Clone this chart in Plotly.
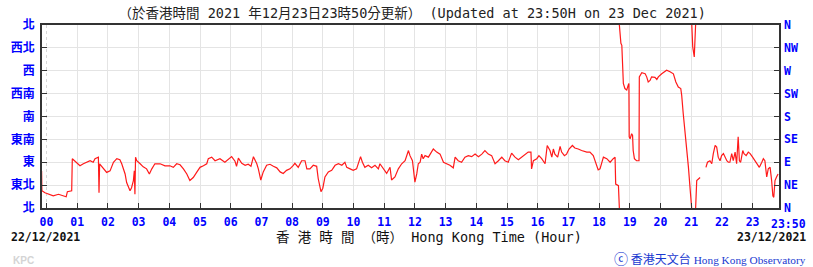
import plotly.graph_objects as go

# Wind direction (degrees) vs. time (hours after 00:00 on 23/12/2021).
# Values below 0 continue past north (unwrapped direction).
hours = [
    -0.16, -0.15, -0.05, 0.06, 0.22, 0.39, 0.55, 0.64, 0.68, 0.77, 0.82, 0.84, 0.93,
    1.04, 1.09, 1.20, 1.31, 1.42, 1.52, 1.58, 1.69, 1.71, 1.73, 1.85, 1.96,
    2.07, 2.18, 2.29, 2.39, 2.45, 2.56, 2.61, 2.67, 2.72, 2.77, 2.83, 2.86, 2.88, 2.90, 2.94,
    3.05, 3.15, 3.26, 3.35, 3.43, 3.53, 3.70, 3.86,
    4.02, 4.13, 4.24, 4.35, 4.46, 4.57, 4.67, 4.78, 4.89,
    5.00, 5.11, 5.22, 5.27, 5.38, 5.49, 5.65, 5.81, 5.92,
    6.03, 6.14, 6.19, 6.25, 6.36, 6.47, 6.57, 6.66, 6.74, 6.85, 6.90, 6.98,
    7.06, 7.17, 7.28, 7.39, 7.50, 7.61, 7.71, 7.82, 7.93,
    8.04, 8.09, 8.20, 8.31, 8.42, 8.48, 8.58, 8.69, 8.80, 8.85, 8.94,
    9.00, 9.07, 9.18, 9.29, 9.40, 9.51, 9.62, 9.72, 9.78, 9.89, 9.99,
    10.10, 10.16, 10.23, 10.29, 10.37, 10.48, 10.59, 10.70, 10.81, 10.86, 10.97,
    11.08, 11.19, 11.24, 11.35, 11.46, 11.57, 11.68, 11.79, 11.84, 11.92,
    12.00, 12.06, 12.11, 12.17, 12.22, 12.27, 12.33, 12.44, 12.55, 12.60, 12.71, 12.82, 12.93,
    13.04, 13.14, 13.25, 13.31, 13.41, 13.52, 13.63, 13.74, 13.85, 13.96,
    14.07, 14.18, 14.28, 14.39, 14.50, 14.61, 14.72, 14.83, 14.93,
    15.04, 15.15, 15.26, 15.37, 15.48, 15.59, 15.69, 15.78, 15.80, 15.86, 15.97,
    16.04, 16.13, 16.24, 16.31, 16.40, 16.46, 16.51, 16.56, 16.65, 16.73, 16.78, 16.87, 16.94,
    17.02, 17.13, 17.21, 17.32, 17.43, 17.60, 17.70, 17.81, 17.87, 17.97,
    18.03, 18.08, 18.14, 18.25, 18.36, 18.46, 18.52, 18.54, 18.63, 18.66, 18.68, 18.71, 18.74,
    18.77, 18.79, 18.84, 18.90, 18.95, 18.97, 18.98,
    19.01, 19.06, 19.09, 19.11, 19.15, 19.22, 19.30, 19.31, 19.39, 19.50, 19.55, 19.60, 19.66,
    19.71, 19.82, 19.88, 19.93,
    20.04, 20.15, 20.20, 20.31, 20.42, 20.50, 20.58, 20.66, 20.69, 20.74, 20.80, 20.85, 20.91, 20.96,
    21.02, 21.05, 21.10, 21.12, 21.14, 21.18, 21.29, 21.38,
    21.48, 21.53, 21.61, 21.67, 21.72, 21.78, 21.83, 21.88, 21.94, 21.99,
    22.05, 22.10, 22.16, 22.21, 22.26, 22.32, 22.37, 22.43, 22.48, 22.53, 22.57, 22.61, 22.68,
    22.72, 22.79, 22.86, 22.92,
    23.00, 23.08, 23.13, 23.22, 23.30, 23.35, 23.40, 23.46, 23.51, 23.57, 23.62, 23.66, 23.69,
    23.73, 23.78, 23.83,
]
direction_deg = [
    73, 34, 30, 28, 24, 27, 23, 22, 32, 34, 34, 97, 92,
    87, 83, 87, 90, 93, 90, 97, 100, 30, 87, 77, 70,
    73, 90, 97, 95, 87, 67, 50, 40, 34, 40, 54, 73, 27, 100, 93,
    87, 81, 77, 67, 77, 87, 87, 83,
    83, 80, 87, 85, 77, 67, 54, 60, 70,
    80, 83, 87, 97, 100, 93, 97, 90, 96,
    101, 92, 82, 98, 88, 84, 86, 82, 101, 87, 77, 55,
    71, 84, 86, 82, 79, 71, 68, 74, 77,
    84, 88, 80, 93, 93, 77, 77, 84, 82, 58, 32,
    39, 61, 71, 74, 84, 87, 84, 90, 80, 77, 74,
    77, 87, 101, 90, 80, 84, 79, 84, 77, 87, 77,
    68, 80, 55, 61, 77, 87, 93, 113, 103, 93,
    51, 67, 87, 90, 106, 97, 103, 100, 113, 116, 110, 106, 90,
    87, 84, 79, 100, 93, 90, 100, 103, 101, 106,
    101, 106, 113, 106, 103, 87, 93, 100, 93,
    90, 108, 100, 95, 100, 106, 110, 110, 77, 93, 97,
    103, 97, 87, 123, 113, 100, 116, 106, 100, 121, 110, 103, 106,
    116, 123, 118, 116, 113, 110, 110, 103, 93, 75,
    77, 90, 100, 97, 90, 97, 100, 47, 44, 0, -23, -36, -40,
    -76, -115, -125, -128, -118, -115, -220,
    -224, -214, -217, -247, -263, -267, -267, -102, -94, -96, -102, -112, -109,
    -102, -103, -107, -102,
    -96, -92, -89, -92, -96, -112, -122, -125, -138, -174, -207, -240, -280, -319,
    -360, -403, -423, -396, -360, -306, -300, None,
    80, 90, 93, 87, 107, 123, 120, 100, 93, 103,
    107, 100, 93, 90, 90, 107, 93, 110, 87, 140, 93, 90, 113,
    107, 103, 110, 107,
    100, 93, 90, 80, 90, 97, 93, 61, 77, 80, 54, 24, 21,
    54, 61, 67,
]

hour_ticks = list(range(24))
hour_labels = [f"{h:02d}" for h in hour_ticks]
dir_ticks = [0, 45, 90, 135, 180, 225, 270, 315, 360]
dir_labels_zh = ["北", "東北", "東", "東南", "南", "西南", "西", "西北", "北"]
dir_labels_en = ["N", "NE", "E", "SE", "S", "SW", "W", "NW", "N"]

title_text = "（於香港時間 2021 年12月23日23時50分更新） (Updated at 23:50H on 23 Dec 2021)"
xlabel_text = "香 港 時 間 （時） Hong Kong Time (Hour)"
start_date = "22/12/2021"
end_date = "23/12/2021"
last_label = "23:50"

BLUE = "#0000ff"
RED = "#ff1a1a"
MONO = "DejaVu Sans Mono, Noto Sans CJK TC"

fig = go.Figure()
# draw the unwrapped series and its 360°-shifted copies so the trace wraps around north
for shift in (0, 360, 720):
    fig.add_trace(go.Scatter(
        x=hours,
        y=[None if v is None else v + shift for v in direction_deg],
        mode="lines", line=dict(color=RED, width=1.2),
        connectgaps=False, showlegend=False, hoverinfo="skip",
    ))
# invisible trace to anchor the right-hand axis
fig.add_trace(go.Scatter(x=[hours[0]], y=[dir_ticks[0]], yaxis="y2", mode="markers",
                         marker=dict(opacity=0), showlegend=False, hoverinfo="skip"))

fig.update_layout(
    width=813, height=267,
    margin=dict(l=42, r=34, t=25, b=59),
    paper_bgcolor="white", plot_bgcolor="white",
    showlegend=False,
    xaxis=dict(
        range=[-0.147, 23.86],
        tickmode="array", tickvals=hour_ticks, ticktext=hour_labels,
        ticks="inside", ticklen=5, tickwidth=1.2, tickcolor="#333",
        showline=True, linecolor="#333", linewidth=1.5, mirror=True,
        showgrid=False, zeroline=False, ticklabelstandoff=2,
        tickfont=dict(family=MONO, size=11.5, color=BLUE, weight="bold"),
        minor=dict(tickmode="array", tickvals=hour_ticks[1:], ticks="",
                   showgrid=True, gridcolor="#e4e4e4", gridwidth=1),
    ),
    yaxis=dict(
        range=[0, 360], tickmode="array", tickvals=dir_ticks, ticktext=dir_labels_zh,
        ticks="inside", ticklen=5, tickwidth=1.2, tickcolor="#333",
        showline=True, linecolor="#333", linewidth=1.5, mirror=True,
        showgrid=True, gridcolor="#e4e4e4", gridwidth=1, zeroline=False,
        ticklabelstandoff=3,
        tickfont=dict(family="Noto Sans CJK TC", size=12, color=BLUE, weight="bold"),
    ),
    yaxis2=dict(
        range=[0, 360], overlaying="y", side="right",
        tickmode="array", tickvals=dir_ticks, ticktext=dir_labels_en,
        ticks="inside", ticklen=5, tickwidth=1.2, tickcolor="#333",
        showline=False, showgrid=False, zeroline=False, ticklabelstandoff=4,
        tickfont=dict(family="DejaVu Sans Mono", size=11.5, color=BLUE, weight="bold"),
    ),
    title=dict(text=title_text, x=0.507, xanchor="center", y=0.951, yanchor="middle",
               yref="container", font=dict(family=MONO, size=13.5, color="#222")),
)

# dashed midnight line
fig.add_shape(type="line", xref="x", yref="paper", x0=hour_ticks[0], x1=hour_ticks[0],
              y0=0, y1=1, line=dict(color="#d8d8d8", width=1, dash="dot"), layer="between")

fig.add_annotation(text=last_label, xref="paper", yref="paper", x=1, y=0, xanchor="center",
                   yanchor="top", xshift=9, yshift=-7, showarrow=False,
                   font=dict(family=MONO, size=11.5, color=BLUE, weight="bold"))
fig.add_annotation(text=start_date, xref="paper", yref="paper", x=0, y=0, xanchor="left",
                   yanchor="middle", xshift=-33, yshift=-29, showarrow=False,
                   font=dict(family="DejaVu Sans Mono", size=11.5, color="#111", weight="bold"))
fig.add_annotation(text=end_date, xref="paper", yref="paper", x=1, y=0, xanchor="right",
                   yanchor="middle", xshift=29, yshift=-29, showarrow=False,
                   font=dict(family="DejaVu Sans Mono", size=11.5, color="#111", weight="bold"))
fig.add_annotation(text=xlabel_text, xref="paper", yref="paper", x=0.525, y=0, xanchor="center",
                   yanchor="middle", yshift=-29, showarrow=False,
                   font=dict(family=MONO, size=13.5, color="#111"))
fig.add_annotation(text="KPC", xref="paper", yref="paper", x=0, y=0, xanchor="left",
                   yanchor="middle", xshift=-31, yshift=-52, showarrow=False,
                   font=dict(family="Liberation Sans", size=10, color="#d4d4d4", weight="bold"))
fig.add_annotation(
    text='<span style="font-size:14px">ⓒ</span> '
         '<span style="font-family:Noto Sans CJK TC;font-size:12px">香港天文台</span> '
         '<span style="font-family:Liberation Serif">Hong Kong Observatory</span>',
    xref="paper", yref="paper", x=1, y=0, xanchor="right", yanchor="middle",
    xshift=29, yshift=-50, showarrow=False,
    font=dict(family="Liberation Serif, Noto Sans CJK TC", size=11.3, color="#1a3ad0"))

fig.write_html("out.html")
